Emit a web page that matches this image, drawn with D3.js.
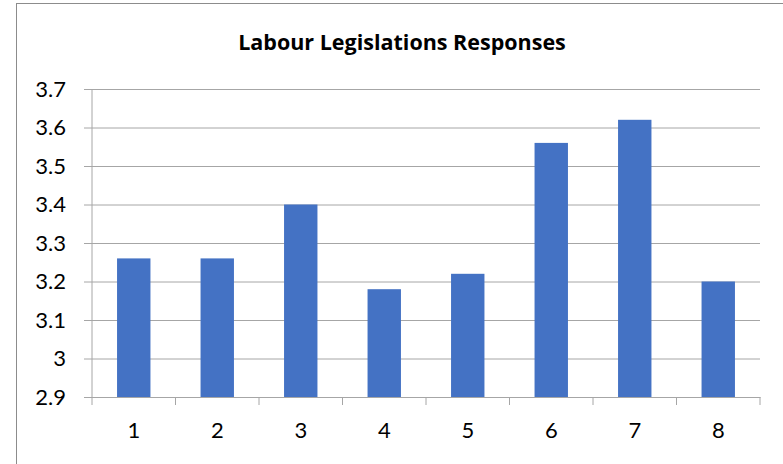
<!DOCTYPE html>
<html>
<head>
<meta charset="utf-8">
<script src="https://cdn.jsdelivr.net/npm/d3@7"></script>
<style>
  body { margin: 0; background: #fff; }
  svg { display: block; }
  .tick text { font-family: Lato, "Open Sans", sans-serif; font-size: 22px; fill: #000; }
</style>
</head>
<body>
<div id="chart"></div>
<script>
const categories = ["1", "2", "3", "4", "5", "6", "7", "8"];
const values = [3.26, 3.26, 3.4, 3.18, 3.22, 3.56, 3.62, 3.2];
const yTicks = [2.9, 3, 3.1, 3.2, 3.3, 3.4, 3.5, 3.6, 3.7];
const title = "Labour Legislations Responses";

const W = 783, H = 464;
const margin = {top: 89, right: 23, bottom: 67, left: 92};
const width = W - margin.left - margin.right;
const height = H - margin.top - margin.bottom;

const svg = d3.select("#chart").append("svg")
    .attr("width", W)
    .attr("height", H);

// chart frame
svg.append("rect")
    .attr("x", 16.5).attr("y", 3.5)
    .attr("width", 800).attr("height", 500)
    .attr("fill", "none")
    .attr("stroke", "#8c8c8c")
    .attr("stroke-width", 1);

svg.append("text")
    .attr("x", 402)
    .attr("y", 50)
    .attr("text-anchor", "middle")
    .style("font-family", "'Open Sans', Lato, sans-serif")
    .style("font-weight", "bold")
    .style("font-size", "21.5px")
    .text(title);

const g = svg.append("g")
    .attr("transform", `translate(${margin.left},${margin.top})`);

const x = d3.scaleBand()
    .domain(categories)
    .range([0, width])
    .paddingInner(0.6)
    .paddingOuter(0.3);

const xCat = d3.scaleBand().domain(categories).range([0, width]);

const y = d3.scaleLinear()
    .domain([2.9, 3.7])
    .range([height, 0]);

// gridlines + y axis
const yAxis = g.append("g")
    .call(d3.axisLeft(y).tickValues(yTicks).tickSize(8).tickFormat(d => d3.format("")(+d.toFixed(1))))
    .call(a => a.select(".domain").remove());
yAxis.selectAll(".tick line")
    .attr("x2", width)
    .attr("x1", -8)
    .attr("stroke", "#a6a6a6");
yAxis.selectAll(".tick text").attr("x", -26);

g.append("line")
    .attr("x1", 0).attr("x2", 0)
    .attr("y1", 0).attr("y2", height)
    .attr("stroke", "#a6a6a6");

g.selectAll(".bar")
    .data(values)
    .enter().append("rect")
    .attr("class", "bar")
    .attr("x", (d, i) => x(categories[i]))
    .attr("width", x.bandwidth())
    .attr("y", d => y(d))
    .attr("height", d => height - y(d))
    .attr("fill", "#4472c4");

// x axis
const xAxis = g.append("g")
    .attr("transform", `translate(0,${height})`)
    .call(d3.axisBottom(xCat).tickSize(0).tickPadding(25));
xAxis.select(".domain").attr("stroke", "#a6a6a6");
xAxis.selectAll(".tick text").attr("dy", "0.71em");

g.append("g")
    .selectAll("line")
    .data(d3.range(categories.length + 1))
    .enter().append("line")
    .attr("x1", i => i * xCat.step())
    .attr("x2", i => i * xCat.step())
    .attr("y1", height)
    .attr("y2", height + 8)
    .attr("stroke", "#a6a6a6");
</script>
</body>
</html>
